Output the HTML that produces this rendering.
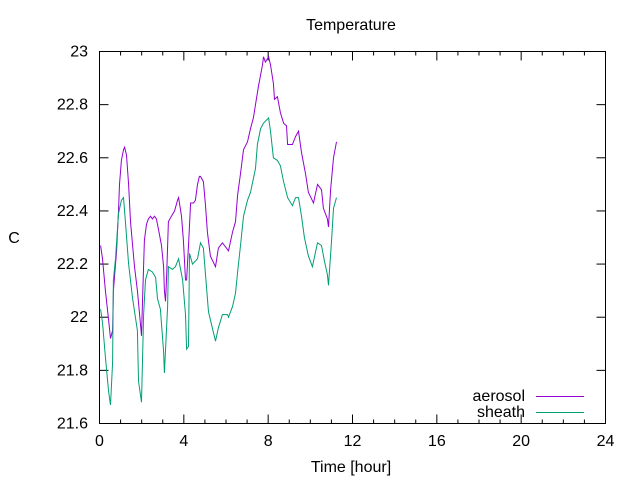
<!DOCTYPE html>
<html><head><meta charset="utf-8"><style>
body{margin:0;background:#fff}
svg text{font-family:"Liberation Sans",sans-serif;font-size:16px;fill:#000}
</style></head><body>
<svg width="640" height="480" id="c">
<text x="351" y="30" text-anchor="middle">Temperature</text>
<text x="14" y="243" text-anchor="middle">C</text>
<text x="351" y="472" text-anchor="middle">Time [hour]</text>
<g id="axes"></g>
<g id="series"></g>
<rect x="99.5" y="51.5" width="506" height="372" fill="none" stroke="#000"/>
<g>
<g><text x="525" y="401" text-anchor="end">aerosol</text><line x1="536" y1="396.5" x2="584" y2="396.5" stroke="#9400d3"/></g>
<g><text x="525" y="417" text-anchor="end">sheath</text><line x1="536" y1="412.5" x2="584" y2="412.5" stroke="#009e73"/></g>
</g>
</svg>
<script>
const xTicks=[0,4,8,12,16,20,24];
const yTicks=[21.6,21.8,22,22.2,22.4,22.6,22.8,23];
const yTickLabels=["21.6","21.8","22","22.2","22.4","22.6","22.8","23"];
const aerosolHours=[0.05,0.14,0.28,0.43,0.52,0.62,0.66,0.81,0.90,0.95,1.04,1.14,1.19,1.28,1.38,1.47,1.57,1.66,1.80,1.90,1.99,2.04,2.13,2.23,2.32,2.42,2.51,2.61,2.70,2.80,2.94,3.04,3.08,3.13,3.18,3.27,3.41,3.56,3.70,3.75,3.89,3.98,4.08,4.13,4.22,4.32,4.46,4.55,4.65,4.74,4.79,4.93,5.03,5.12,5.26,5.50,5.64,5.83,6.12,6.31,6.45,6.55,6.69,6.83,7.02,7.16,7.30,7.40,7.54,7.73,7.78,7.87,8.02,8.11,8.25,8.30,8.44,8.58,8.73,8.87,8.92,9.15,9.30,9.44,9.58,9.77,9.91,10.15,10.34,10.53,10.62,10.81,10.86,10.96,11.10,11.24];
const aerosolTemps=[22.27,22.22,22.10,21.99,21.92,21.95,22.10,22.25,22.40,22.50,22.59,22.63,22.64,22.61,22.50,22.36,22.27,22.19,22.10,22.01,21.93,22.06,22.29,22.35,22.37,22.38,22.37,22.38,22.37,22.33,22.27,22.19,22.10,22.06,22.14,22.36,22.38,22.40,22.44,22.45,22.38,22.29,22.14,22.14,22.27,22.43,22.43,22.44,22.50,22.53,22.53,22.51,22.42,22.32,22.23,22.19,22.26,22.28,22.25,22.32,22.36,22.46,22.54,22.63,22.66,22.71,22.75,22.80,22.87,22.95,22.98,22.96,22.98,22.95,22.88,22.82,22.83,22.77,22.73,22.72,22.65,22.65,22.68,22.70,22.62,22.54,22.47,22.43,22.50,22.48,22.41,22.37,22.34,22.48,22.60,22.66];
const sheathHours=[0.05,0.14,0.28,0.43,0.52,0.62,0.66,0.76,0.90,1.04,1.14,1.23,1.38,1.57,1.80,1.85,1.99,2.09,2.18,2.32,2.51,2.66,2.75,2.89,3.04,3.08,3.23,3.27,3.46,3.60,3.75,3.94,4.08,4.13,4.22,4.27,4.41,4.65,4.79,4.93,5.03,5.17,5.41,5.50,5.64,5.83,6.07,6.12,6.31,6.45,6.55,6.69,6.83,7.02,7.16,7.40,7.49,7.64,7.78,8.02,8.11,8.25,8.44,8.58,8.73,8.92,9.15,9.30,9.44,9.58,9.72,9.91,10.10,10.34,10.53,10.67,10.81,10.86,11.00,11.10,11.24];
const sheathTemps=[22.03,21.98,21.85,21.72,21.67,21.83,22.14,22.22,22.39,22.44,22.45,22.36,22.20,22.07,21.95,21.76,21.68,22.01,22.14,22.18,22.17,22.15,22.07,22.03,21.87,21.79,22.04,22.19,22.18,22.19,22.22,22.14,22.01,21.88,21.89,22.24,22.20,22.22,22.28,22.26,22.16,22.02,21.94,21.91,21.96,22.01,22.01,22.00,22.04,22.09,22.17,22.27,22.38,22.44,22.47,22.56,22.65,22.71,22.73,22.75,22.70,22.60,22.59,22.57,22.51,22.45,22.42,22.45,22.45,22.38,22.30,22.23,22.19,22.28,22.27,22.21,22.16,22.12,22.28,22.41,22.45];
const L=99.5,R=605.5,T=51.5,B=423.5;
const xs=h=>L+(R-L)*h/24;
const ys=v=>B-(B-T)*(v-21.6)/1.4;
const NS="http://www.w3.org/2000/svg";
const ax=document.getElementById('axes');
function mk(tag,attrs,parent){const e=document.createElementNS(NS,tag);for(const k in attrs)e.setAttribute(k,attrs[k]);parent.appendChild(e);return e;}
xTicks.forEach(t=>{
  const x=xs(t);
  const a=mk('line',{x1:x,y1:B,x2:x,y2:B-9,stroke:'#000'},ax);
  
  
  const b=mk('line',{x1:x,y1:T,x2:x,y2:T+9,stroke:'#000'},ax);
  
  
  const tx=mk('text',{x:x,y:446,'text-anchor':'middle'},ax);
  tx.textContent=String(t);
  
  
});
for(let h=0;h<=24;h++){if(h%4===0)continue;const x=xs(h);
  const a=mk('line',{x1:x,y1:B,x2:x,y2:B-4,stroke:'#000'},ax);
  
  
  const b=mk('line',{x1:x,y1:T,x2:x,y2:T+4,stroke:'#000'},ax);
  
  
}
yTicks.forEach((t,i)=>{
  const y=ys(t);
  const a=mk('line',{x1:L,y1:y,x2:L+9,y2:y,stroke:'#000'},ax);
  
  
  const b=mk('line',{x1:R,y1:y,x2:R-9,y2:y,stroke:'#000'},ax);
  
  
  const tx=mk('text',{x:88,y:y+5,'text-anchor':'end'},ax);
  tx.textContent=yTickLabels[i];
  
  
});
const sg=document.getElementById('series');
function line(hs,vs,col,name){
  const d=hs.map((h,i)=>(i?'L':'M')+xs(h).toFixed(1)+','+ys(vs[i]).toFixed(1)).join('');
  const p=mk('path',{d:d,fill:'none',stroke:col,'stroke-width':1},sg);
  
  
}
line(aerosolHours,aerosolTemps,'#9400d3','aerosol-line');
line(sheathHours,sheathTemps,'#009e73','sheath-line');
</script>
</body></html>
